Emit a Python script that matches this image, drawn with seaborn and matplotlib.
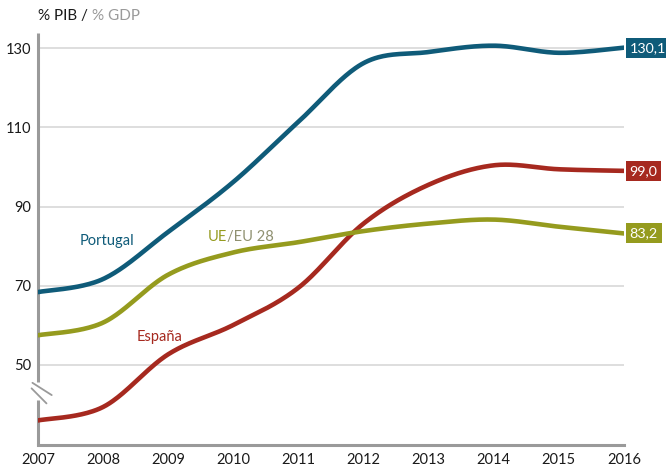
import numpy as np
import pandas as pd
import matplotlib
matplotlib.use("Agg")
import matplotlib.pyplot as plt
import matplotlib.transforms as mtransforms
import seaborn as sns

# Government debt, % of GDP
years = [2007, 2008, 2009, 2010, 2011, 2012, 2013, 2014, 2015, 2016]
portugal = [68.4, 71.7, 83.6, 96.2, 111.4, 126.2, 129.0, 130.6, 128.8, 130.1]
espana = [36.0, 39.4, 52.7, 60.1, 69.5, 85.7, 95.5, 100.4, 99.4, 99.0]
ue28 = [57.5, 60.7, 72.8, 78.4, 81.0, 83.8, 85.7, 86.7, 84.9, 83.2]
yticks = [50, 70, 90, 110, 130]
series_names = ["Portugal", "España", "UE/EU 28"]
end_labels = ["130,1", "99,0", "83,2"]

colors = {"Portugal": "#0F5B79", "España": "#A6291F", "UE/EU 28": "#959B1E"}
GRID = "#d4d4d4"
AXIS = "#9a9a9a"


def smooth(x, y, n=40):
    """Smoothed line: cubic Bezier segments with Catmull-Rom handles."""
    pts = np.column_stack([x, y]).astype(float)
    P = np.vstack([pts[0], pts, pts[-1]])
    out = []
    for i in range(len(pts) - 1):
        p0, p1, p2, p3 = P[i], P[i + 1], P[i + 2], P[i + 3]
        c1 = p1 + (p2 - p0) / 6.0
        c2 = p2 - (p3 - p1) / 6.0
        t = np.linspace(0, 1, n, endpoint=(i == len(pts) - 2))[:, None]
        b = (1 - t) ** 3 * p1 + 3 * (1 - t) ** 2 * t * c1 + 3 * (1 - t) * t ** 2 * c2 + t ** 3 * p2
        out.append(b)
    return np.vstack(out)


frames = []
for name, vals in zip(series_names, [portugal, espana, ue28]):
    s = smooth(years, vals)
    frames.append(pd.DataFrame({"x": s[:, 0], "y": s[:, 1], "serie": name}))
df = pd.concat(frames, ignore_index=True)

sns.set_theme(style="white")
plt.rcParams["font.family"] = ["Lato", "DejaVu Sans"]

fig = plt.figure(figsize=(6.66, 4.68), dpi=100)
ax = fig.add_axes([38 / 666, 23 / 468, 586 / 666, 412 / 468])

sns.lineplot(data=df, x="x", y="y", hue="serie", palette=colors, sort=False,
             estimator=None, linewidth=3.3, legend=False, ax=ax, zorder=3)

ax.set_xlim(years[0], years[-1])
ax.set_ylim(29.8, 133.8)
ax.set_xticks(years)
ax.set_xticklabels([str(y) for y in years])
ax.set_yticks(yticks)
ax.set_yticklabels([str(v) for v in yticks])
ax.set_xlabel("")
ax.set_ylabel("")
ax.tick_params(axis="both", length=0, labelsize=10.5, colors="#1a1a1a")
ax.tick_params(axis="y", pad=5)
ax.tick_params(axis="x", pad=5.5)
ax.yaxis.grid(True, color=GRID, linewidth=1.1)
ax.xaxis.grid(False)
ax.set_axisbelow(True)

for side in ["top", "right", "left"]:
    ax.spines[side].set_visible(False)
ax.spines["bottom"].set_color(AXIS)
ax.spines["bottom"].set_linewidth(2.2)

# Left axis with a break below 50
bt = mtransforms.blended_transform_factory(ax.transAxes, ax.transData)
ax.plot([0, 0], [45.7, 133.8], transform=bt, color=AXIS, lw=2.2, clip_on=False, solid_capstyle="butt")
ax.plot([0, 0], [29.8, 41.2], transform=bt, color=AXIS, lw=2.2, clip_on=False, solid_capstyle="butt")
ax.plot([-0.0095, 0.0234], [45.5, 42.4], transform=bt, color=AXIS, lw=1.3, clip_on=False)
ax.plot([-0.0110, 0.0145], [44.1, 40.3], transform=bt, color=AXIS, lw=1.3, clip_on=False)

# End-value boxes
for name, vals, lab in zip(series_names, [portugal, espana, ue28], end_labels):
    ax.annotate(lab, xy=(years[-1], vals[-1]), xytext=(4, 0), textcoords="offset points",
                ha="left", va="center", color="white", fontsize=10.3,
                bbox=dict(boxstyle="square,pad=0.28", fc=colors[name], ec="none"),
                annotation_clip=False, zorder=5)


def text_run(first, parts, **kw):
    """Place further coloured pieces directly after a text, on the same baseline."""
    renderer = fig.canvas.get_renderer()
    prev = first
    for s, c in parts:
        ex = prev.get_window_extent(renderer=renderer)
        anchor = prev.get_transform().transform(prev.get_position())
        fx, fy = fig.transFigure.inverted().transform((ex.x1, anchor[1]))
        prev = fig.text(fx, fy, s, color=c, ha="left", va=prev.get_va(), **kw)
    return prev


# Axis title
t0 = fig.text(38 / 666, 1 - 16 / 468, "% PIB / ", color="#1a1a1a", fontsize=11, ha="left", va="center")
text_run(t0, [("% GDP", "#9a9a9a")], fontsize=11)

# Series labels
ax.text(2008.06, 81.3, "Portugal", color=colors["Portugal"], fontsize=10.5, ha="center", va="center")
ax.text(2008.52, 57.1, "España", color=colors["España"], fontsize=10.5, ha="left", va="center")
t1 = ax.text(2009.6, 82.3, "UE", color=colors["UE/EU 28"], fontsize=10.5, ha="left", va="center")
text_run(t1, [("/EU 28", "#8f9070")], fontsize=10.5)

fig.savefig("out.png", dpi=100, facecolor="white")
